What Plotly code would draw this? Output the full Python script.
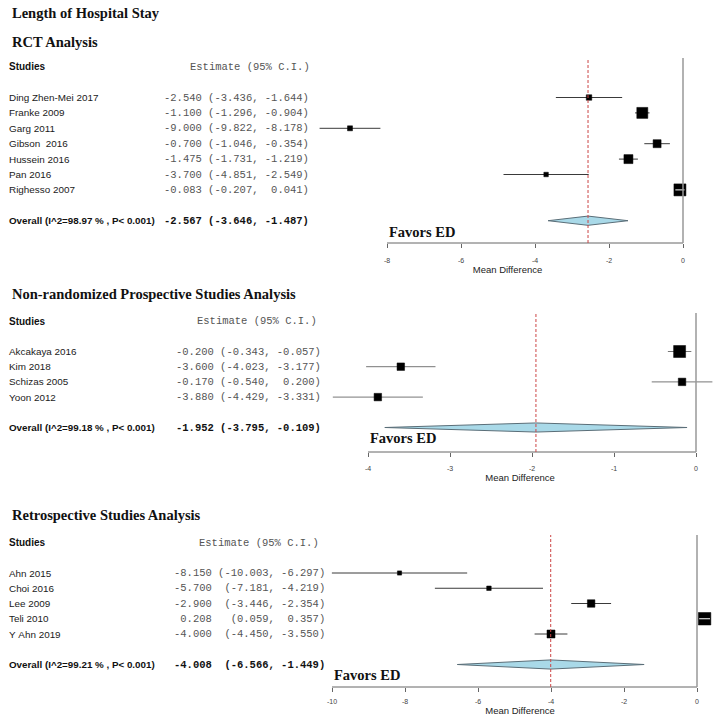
import plotly.graph_objects as go

W, H = 720, 718

# ---------------- data ----------------
main_title = "Length of Hospital Stay"

rct_title = "RCT Analysis"
rct_studies = ["Ding Zhen-Mei 2017", "Franke 2009", "Garg 2011", "Gibson  2016",
               "Hussein 2016", "Pan 2016", "Righesso 2007"]
rct_est = [-2.540, -1.100, -9.000, -0.700, -1.475, -3.700, -0.083]
rct_lo = [-3.436, -1.296, -9.822, -1.046, -1.731, -4.851, -0.207]
rct_hi = [-1.644, -0.904, -8.178, -0.354, -1.219, -2.549, 0.041]
rct_weight = [5.5, 11, 5, 8, 9, 4.5, 12]
rct_overall = [-2.567, -3.646, -1.487]
rct_overall_label = "Overall (I^2=98.97 % , P< 0.001)"
rct_ticks = [-8, -6, -4, -2, 0]

nrp_title = "Non-randomized Prospective Studies Analysis"
nrp_studies = ["Akcakaya 2016", "Kim 2018", "Schizas 2005", "Yoon 2012"]
nrp_est = [-0.200, -3.600, -0.170, -3.880]
nrp_lo = [-0.343, -4.023, -0.540, -4.429]
nrp_hi = [-0.057, -3.177, 0.200, -3.331]
nrp_weight = [12, 7.5, 7.5, 7.5]
nrp_overall = [-1.952, -3.795, -0.109]
nrp_overall_label = "Overall (I^2=99.18 % , P< 0.001)"
nrp_ticks = [-4, -3, -2, -1, 0]

ret_title = "Retrospective Studies Analysis"
ret_studies = ["Ahn 2015", "Choi 2016", "Lee 2009", "Teli 2010", "Y Ahn 2019"]
ret_est = [-8.150, -5.700, -2.900, 0.208, -4.000]
ret_lo = [-10.003, -7.181, -3.446, 0.059, -4.450]
ret_hi = [-6.297, -4.219, -2.354, 0.357, -3.550]
ret_weight = [4.2, 4.5, 7.5, 12.5, 8]
ret_overall = [-4.008, -6.566, -1.449]
ret_overall_label = "Overall (I^2=99.21 % , P< 0.001)"
ret_ticks = [-10, -8, -6, -4, -2, 0]

x_title = "Mean Difference"
favors_text = "Favors ED"
col_studies = "Studies"
col_estimate = "Estimate (95% C.I.)"

# ---------------- layout geometry (pixels) ----------------
panels = [
    dict(title=rct_title, title_y=42, studies=rct_studies, est=rct_est, lo=rct_lo, hi=rct_hi,
         w=rct_weight, ov=rct_overall, ov_label=rct_overall_label, ticks=rct_ticks,
         xpx=(315, 700), x0px=683, scale=37.0, ypx=(58, 243), row1=97.5, rstep=15.4,
         val_x=162, head_x=188, ci_color="#3a3a3a", tstand=7, tit_stand=1),
    dict(title=nrp_title, title_y=294, studies=nrp_studies, est=nrp_est, lo=nrp_lo, hi=nrp_hi,
         w=nrp_weight, ov=nrp_overall, ov_label=nrp_overall_label, ticks=nrp_ticks,
         xpx=(320, 720), x0px=696, scale=82.0, ypx=(313, 452), row1=351.5, rstep=15.2,
         val_x=174, head_x=195, ci_color="#777777", tstand=6, tit_stand=1),
    dict(title=ret_title, title_y=515, studies=ret_studies, est=ret_est, lo=ret_lo, hi=ret_hi,
         w=ret_weight, ov=ret_overall, ov_label=ret_overall_label, ticks=ret_ticks,
         xpx=(320, 720), x0px=697, scale=36.5, ypx=(535, 687), row1=573, rstep=15.25,
         val_x=172, head_x=197, ci_color="#3a3a3a", tstand=4, tit_stand=2),
]

SANS = "Arial, Liberation Sans, sans-serif"
SERIF = "Times New Roman, Liberation Serif, serif"
MONO = "Courier New, Liberation Mono, monospace"
NB = "\u00a0"

fig = go.Figure()
annotations = []
shapes = []
layout_axes = {}

annotations.append(dict(text="<b>" + main_title + "</b>", x=10 / W, y=1 - 13 / H, xref="paper", yref="paper",
                        xanchor="left", yanchor="middle", showarrow=False,
                        font=dict(family=SERIF, size=14.5, color="#111")))


def fmt_line(e, lo, hi, ci_w):
    ci = "(" + f"{lo:.3f}" + ", " + f"{hi:.3f}".rjust(6) + ")"
    return (f"{e:.3f}".rjust(6) + " " + ci.rjust(ci_w)).replace(" ", NB)


for i, p in enumerate(panels, start=1):
    xs = "" if i == 1 else str(i)
    xa, ya = "x" + xs, "y" + xs
    n = len(p["studies"])
    rows = list(range(1, n + 1))
    ov_row = n + 2
    # axis ranges
    xl = (p["xpx"][0] - p["x0px"]) / p["scale"]
    xr = (p["xpx"][1] - p["x0px"]) / p["scale"]
    ytop = 1 + (p["ypx"][0] - p["row1"]) / p["rstep"]
    ybot = 1 + (p["ypx"][1] - p["row1"]) / p["rstep"]
    layout_axes["xaxis" + xs] = dict(
        domain=[p["xpx"][0] / W, p["xpx"][1] / W], range=[xl, xr], anchor=ya,
        showgrid=False, zeroline=False, showline=False,
        tickvals=p["ticks"], ticktext=[str(t) for t in p["ticks"]],
        ticks="outside", ticklen=4, tickcolor="#666", tickwidth=1,
        tickfont=dict(family=SANS, size=7, color="#444"), ticklabelstandoff=p["tstand"],
        title=dict(text=x_title, font=dict(family=SANS, size=9.5, color="#222"), standoff=p["tit_stand"]),
        fixedrange=True)
    layout_axes["yaxis" + xs] = dict(
        domain=[1 - p["ypx"][1] / H, 1 - p["ypx"][0] / H], range=[ybot, ytop],
        anchor=xa, visible=False, fixedrange=True)

    # reference lines
    shapes.append(dict(type="line", xref=xa, yref=ya + " domain", x0=min(p["ticks"]), x1=max(p["ticks"]),
                       y0=0, y1=0, line=dict(color="#666", width=1)))
    shapes.append(dict(type="line", xref=xa, yref=ya + " domain", x0=0, x1=0, y0=0, y1=1,
                       line=dict(color="#999", width=1.5)))
    shapes.append(dict(type="line", xref=xa, yref=ya + " domain", x0=p["ov"][0], x1=p["ov"][0], y0=0, y1=1,
                       line=dict(color="#cc4444", width=1, dash="3px,2px")))

    # CI lines
    cx, cy = [], []
    for lo, hi, r in zip(p["lo"], p["hi"], rows):
        cx += [lo, hi, None]
        cy += [r, r, None]
    fig.add_trace(go.Scatter(x=cx, y=cy, mode="lines", line=dict(color=p["ci_color"], width=1),
                             xaxis=xa, yaxis=ya, hoverinfo="skip", showlegend=False))
    # boxes
    fig.add_trace(go.Scatter(x=p["est"], y=rows, mode="markers",
                             marker=dict(symbol="square", size=p["w"], color="#000000", opacity=1,
                                         line=dict(width=0.5, color="#000000")),
                             xaxis=xa, yaxis=ya, showlegend=False))
    # white CI where box is wider than interval
    wx, wy = [], []
    for lo, hi, r, s in zip(p["lo"], p["hi"], rows, p["w"]):
        if (hi - lo) * p["scale"] < s:
            wx += [lo, hi, None]
            wy += [r, r, None]
    if wx:
        fig.add_trace(go.Scatter(x=wx, y=wy, mode="lines", line=dict(color="white", width=1),
                                 xaxis=xa, yaxis=ya, hoverinfo="skip", showlegend=False))
    # diamond
    e, lo, hi = p["ov"]
    hh = 0.3
    fig.add_trace(go.Scatter(x=[lo, e, hi, e, lo], y=[ov_row, ov_row - hh, ov_row, ov_row + hh, ov_row],
                             mode="lines", fill="toself", fillcolor="#a9d9e8",
                             line=dict(color="#5a6e78", width=1), xaxis=xa, yaxis=ya,
                             hoverinfo="skip", showlegend=False))

    # texts
    annotations.append(dict(text="<b>" + p["title"] + "</b>", x=10 / W, y=1 - p["title_y"] / H,
                            xref="paper", yref="paper", xanchor="left", yanchor="middle", showarrow=False,
                            font=dict(family=SERIF, size=14.5, color="#111")))
    annotations.append(dict(text="<b>" + col_studies + "</b>", x=7 / W, y=-1, xref="paper", yref=ya,
                            xanchor="left", yanchor="middle", showarrow=False,
                            font=dict(family=SANS, size=10, color="#111")))
    annotations.append(dict(text=col_estimate.replace(" ", NB), x=p["head_x"] / W, y=-1, xref="paper", yref=ya,
                            xanchor="left", yanchor="middle", showarrow=False,
                            font=dict(family=MONO, size=10.5, color="#555")))
    ci_w = max(len("(" + f"{l:.3f}" + ", " + f"{h:.3f}".rjust(6) + ")")
               for l, h in zip(p["lo"] + [p["ov"][1]], p["hi"] + [p["ov"][2]]))
    for name, e_, l_, h_, r in zip(p["studies"], p["est"], p["lo"], p["hi"], rows):
        annotations.append(dict(text=name.replace(" ", NB), x=7 / W, y=r, xref="paper", yref=ya,
                                xanchor="left", yanchor="middle", showarrow=False,
                                font=dict(family=SANS, size=9.9, color="#1a1a1a")))
        annotations.append(dict(text=fmt_line(e_, l_, h_, ci_w), x=p["val_x"] / W, y=r, xref="paper", yref=ya,
                                xanchor="left", yanchor="middle", showarrow=False,
                                font=dict(family=MONO, size=10.5, color="#555")))
    annotations.append(dict(text="<b>" + p["ov_label"] + "</b>", x=7 / W, y=ov_row, xref="paper", yref=ya,
                            xanchor="left", yanchor="middle", showarrow=False,
                            font=dict(family=SANS, size=9.8, color="#111")))
    annotations.append(dict(text="<b>" + fmt_line(e, lo, hi, ci_w) + "</b>", x=p["val_x"] / W, y=ov_row,
                            xref="paper", yref=ya, xanchor="left", yanchor="middle", showarrow=False,
                            font=dict(family=MONO, size=10.5, color="#111")))
    annotations.append(dict(text="<b>" + favors_text + "</b>", x=min(p["ticks"]), y=ov_row + 0.72,
                            xref=xa, yref=ya, xanchor="left", yanchor="middle", showarrow=False,
                            font=dict(family=SERIF, size=14.5, color="#111")))

fig.update_layout(width=W, height=H, margin=dict(l=0, r=0, t=0, b=0),
                  paper_bgcolor="white", plot_bgcolor="white",
                  annotations=annotations, shapes=shapes, showlegend=False, **layout_axes)

fig.write_html("out.html", config={"displayModeBar": False},
               post_script="document.body.style.margin='0';document.body.style.padding='0';"
                           "document.body.style.overflow='hidden';")
